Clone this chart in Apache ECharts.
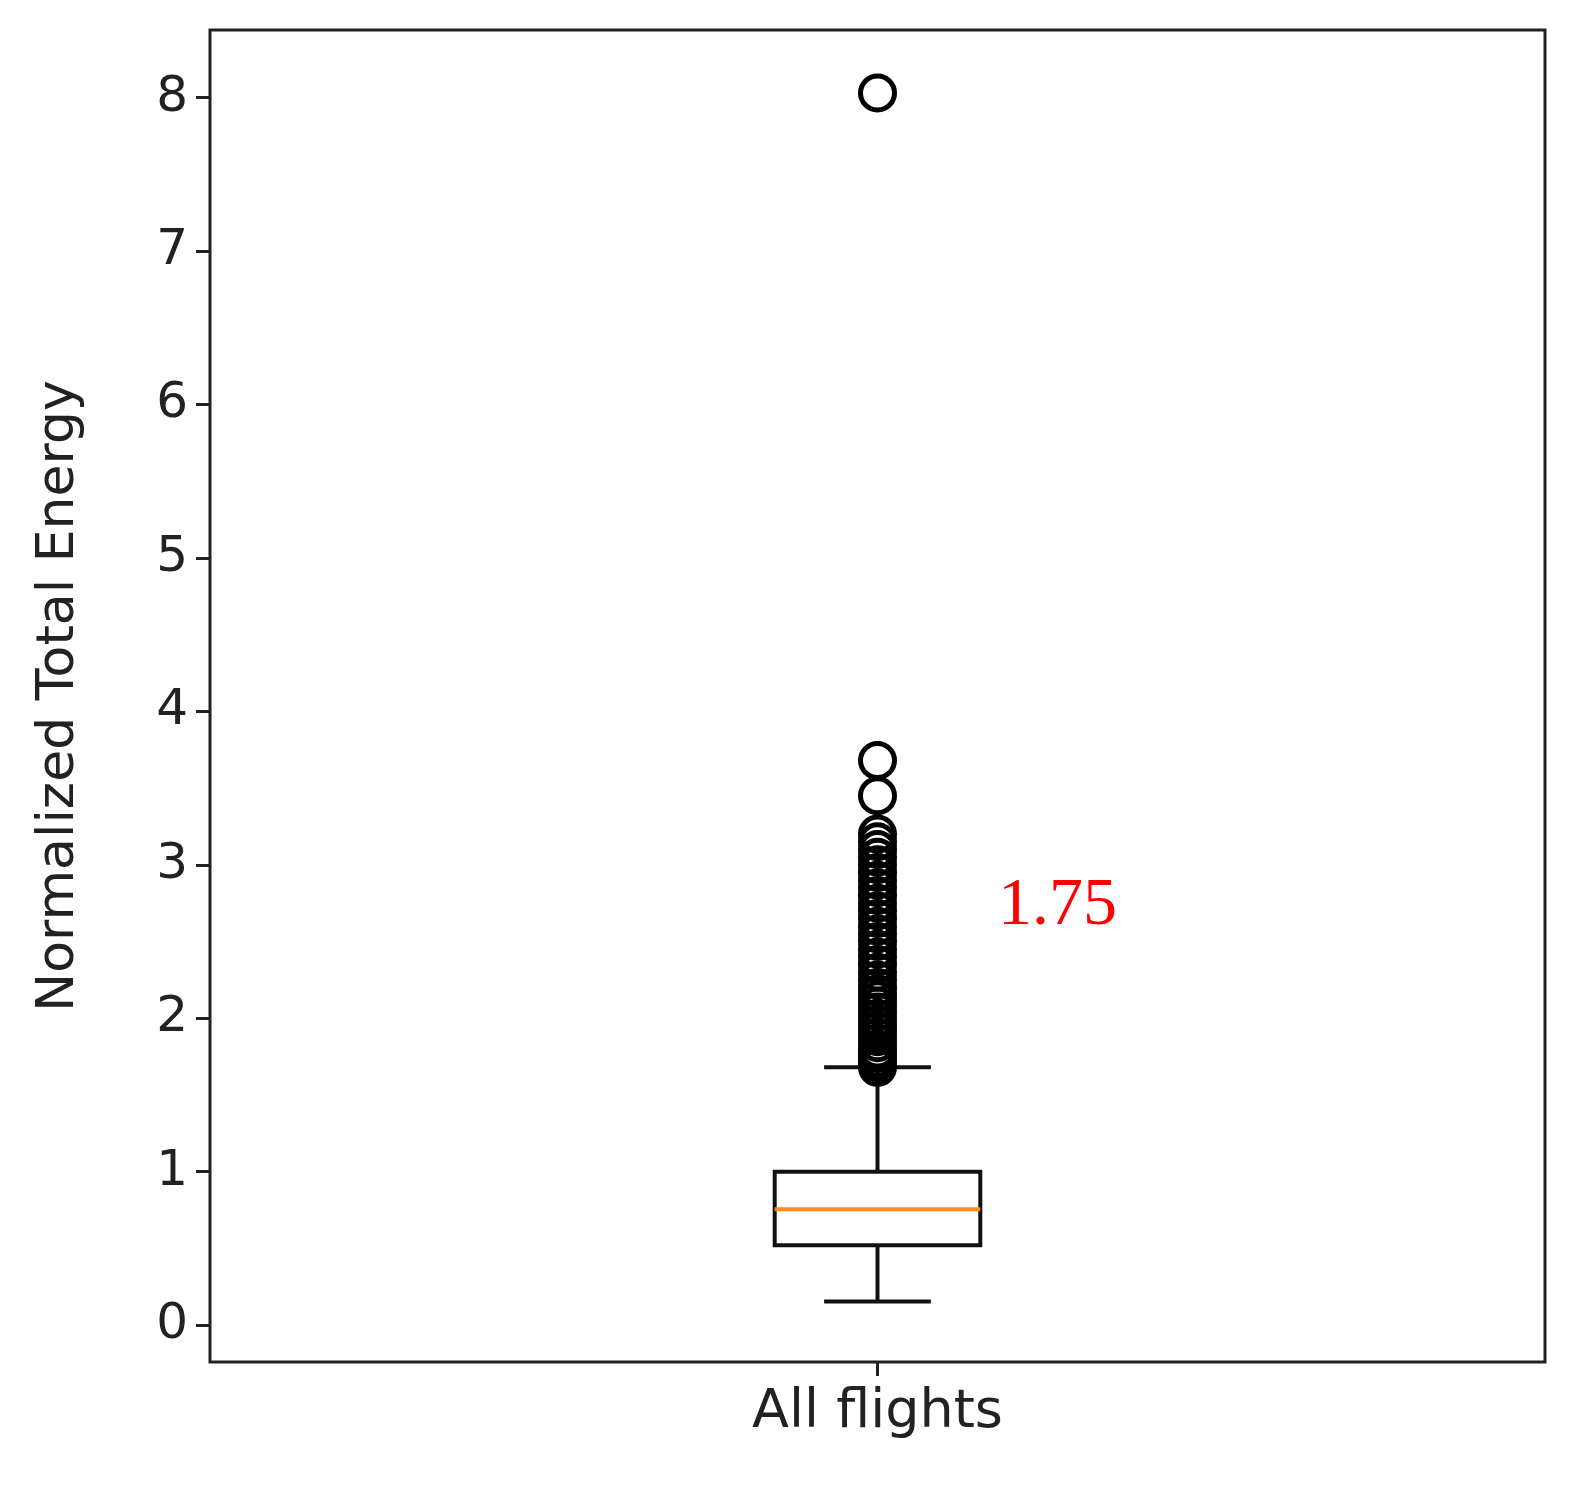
<!DOCTYPE html>
<html>
<head>
<meta charset="utf-8">
<script src="https://cdn.jsdelivr.net/npm/echarts@6/dist/echarts.min.js"></script>
<style>html,body{margin:0;padding:0;background:#fff}#main{width:1588px;height:1507px}</style>
</head>
<body>
<div id="main"></div>
<script>
var categories = ['All flights'];
// [lower whisker, q1, median, q3, upper whisker]
var boxStats = [[0.155, 0.52, 0.755, 1.0, 1.68]];
var outliers = [1.68, 1.71, 1.74, 1.77, 1.8, 1.84, 1.88, 1.92, 1.96, 2.0, 2.04, 2.08, 2.12, 2.16, 2.2, 2.25, 2.3, 2.35, 2.4, 2.45, 2.5, 2.55, 2.6, 2.65, 2.7, 2.75, 2.8, 2.85, 2.9, 2.95, 3.0, 3.05, 3.1, 3.15, 3.2, 3.45, 3.68, 8.03];
var yTicks = [0, 1, 2, 3, 4, 5, 6, 7, 8];
var note = '1.75';

var chart = echarts.init(document.getElementById('main'));
chart.setOption({
  animation: false,
  grid: { left: 210, right: 43, top: 30, bottom: 145, show: true, borderColor: '#222', borderWidth: 3 },
  xAxis: {
    type: 'category', data: categories,
    axisLine: { show: false, onZero: false },
    axisTick: { show: true, inside: false, alignWithLabel: true, length: 14, lineStyle: { color: '#222', width: 3 } },
    axisLabel: { fontSize: 54, color: '#222', margin: 24, fontFamily: 'DejaVu Sans' }
  },
  yAxis: {
    type: 'value', min: -0.24, max: 8.44,
    splitLine: { show: false },
    axisLine: { show: false },
    axisTick: { show: true, length: 14, customValues: yTicks, lineStyle: { color: '#222', width: 3 } },
    axisLabel: { fontSize: 50, color: '#222', margin: 22, fontFamily: 'DejaVu Sans', customValues: yTicks },
    name: 'Normalized Total Energy', nameLocation: 'middle', nameGap: 125,
    nameTextStyle: { fontSize: 52, color: '#222', fontFamily: 'DejaVu Sans' }
  },
  series: [
    {
      type: 'custom',
      data: boxStats.map(function (s, i) { return [i].concat(s); }),
      renderItem: function (params, api) {
        var x = api.value(0);
        var band = api.size([1, 0])[0];
        var hw = band * 0.077, cw = band * 0.04;
        var pMin = api.coord([x, api.value(1)]), pQ1 = api.coord([x, api.value(2)]);
        var pMed = api.coord([x, api.value(3)]), pQ3 = api.coord([x, api.value(4)]);
        var pMax = api.coord([x, api.value(5)]);
        var cx = pMin[0];
        var ls = { stroke: '#111', lineWidth: 4, fill: null };
        return { type: 'group', children: [
          { type: 'line', shape: { x1: cx, y1: pMin[1], x2: cx, y2: pQ1[1] }, style: ls },
          { type: 'line', shape: { x1: cx, y1: pQ3[1], x2: cx, y2: pMax[1] }, style: ls },
          { type: 'line', shape: { x1: cx - cw, y1: pMin[1], x2: cx + cw, y2: pMin[1] }, style: ls },
          { type: 'line', shape: { x1: cx - cw, y1: pMax[1], x2: cx + cw, y2: pMax[1] }, style: ls },
          { type: 'rect', shape: { x: cx - hw, y: pQ3[1], width: 2 * hw, height: pQ1[1] - pQ3[1] }, style: { stroke: '#111', lineWidth: 4, fill: '#fff' } },
          { type: 'line', shape: { x1: cx - hw, y1: pMed[1], x2: cx + hw, y2: pMed[1] }, style: { stroke: '#ff8c1a', lineWidth: 4 } }
        ] };
      }
    },
    {
      type: 'scatter',
      data: outliers.map(function (v) { return [0, v]; }),
      symbol: 'circle', symbolSize: 34,
      itemStyle: { color: 'rgba(255,255,255,0)', borderColor: '#000', borderWidth: 5, opacity: 1 },
      z: 3
    }
  ],
  graphic: [{
    type: 'text', left: 998, top: 872,
    style: { text: note, fill: '#ff0000', fontSize: 68, fontFamily: 'Liberation Serif' }
  }]
});
</script>
</body>
</html>
